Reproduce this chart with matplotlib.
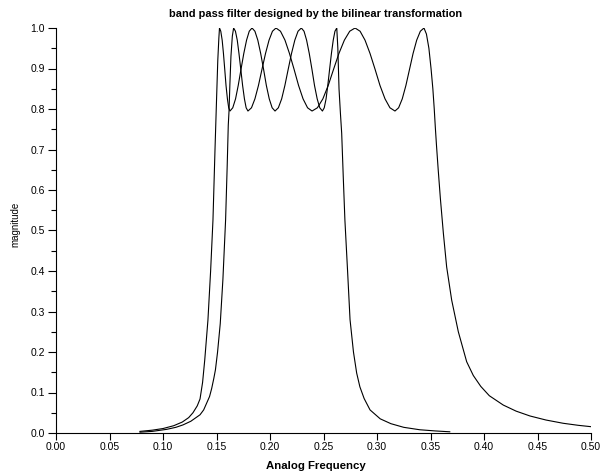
import matplotlib
matplotlib.use("Agg")
import matplotlib.pyplot as plt
from matplotlib.ticker import MultipleLocator, FormatStrFormatter

# narrow band filter
f_narrow = [0.0785, 0.090, 0.100, 0.110, 0.118, 0.124, 0.128, 0.132, 0.1346, 0.137,
            0.139, 0.142, 0.1445, 0.1467, 0.1486, 0.1500, 0.1512, 0.1522, 0.1528,
            0.1540, 0.1553, 0.1565, 0.1577, 0.1589, 0.1602, 0.1614, 0.1626,
            0.1652, 0.1678, 0.1703, 0.1729, 0.1755, 0.1781, 0.1806, 0.1832,
            0.1859, 0.1886, 0.1913, 0.1940, 0.1966, 0.1993, 0.2020, 0.2047,
            0.2078, 0.2109, 0.2139, 0.2170, 0.2201, 0.2232, 0.2262, 0.2293,
            0.2318, 0.2342, 0.2367, 0.2392, 0.2416, 0.2441, 0.2465, 0.2490,
            0.2507, 0.2524, 0.2540, 0.2557, 0.2574, 0.2591, 0.2607, 0.2624,
            0.2634, 0.2645, 0.2658, 0.2670, 0.2685, 0.2700, 0.2725, 0.2748, 0.2780,
            0.2810, 0.2840, 0.2880, 0.2935, 0.3030, 0.3130, 0.3250, 0.3400, 0.3550, 0.3680]
m_narrow = [0.004, 0.007, 0.011, 0.018, 0.027, 0.038, 0.050, 0.067, 0.084, 0.125,
            0.180, 0.279, 0.400, 0.526, 0.700, 0.820, 0.920, 0.975, 1.000,
            0.992, 0.970, 0.937, 0.898, 0.858, 0.825, 0.803, 0.795,
            0.803, 0.825, 0.858, 0.898, 0.937, 0.970, 0.992, 1.000,
            0.992, 0.970, 0.937, 0.898, 0.858, 0.825, 0.803, 0.795,
            0.803, 0.825, 0.858, 0.898, 0.937, 0.970, 0.992, 1.000,
            0.992, 0.970, 0.937, 0.898, 0.858, 0.825, 0.803, 0.795,
            0.803, 0.825, 0.858, 0.898, 0.937, 0.970, 0.992, 1.000,
            0.950, 0.850, 0.790, 0.740, 0.630, 0.526, 0.400, 0.280, 0.200,
            0.148, 0.114, 0.085, 0.057, 0.035, 0.023, 0.014, 0.008, 0.005, 0.003]

# wide band filter
f_wide = [0.0785, 0.090, 0.1034, 0.112, 0.1187, 0.126, 0.1346, 0.138, 0.141, 0.1435,
          0.1455, 0.1475, 0.149, 0.151, 0.1535, 0.156, 0.1585, 0.1600, 0.1610, 0.1617,
          0.1625, 0.1635, 0.1648, 0.1660,
          0.1677, 0.1694, 0.1710, 0.1727, 0.1744, 0.1761, 0.1777, 0.1794,
          0.1827, 0.1859, 0.1892, 0.1925, 0.1958, 0.1991, 0.2023, 0.2056,
          0.2098, 0.2140, 0.2182, 0.2225, 0.2267, 0.2309, 0.2351, 0.2393,
          0.2443, 0.2494, 0.2544, 0.2594, 0.2644, 0.2695, 0.2745, 0.2795,
          0.2842, 0.2888, 0.2935, 0.2982, 0.3028, 0.3075, 0.3121, 0.3168,
          0.3202, 0.3236, 0.3270, 0.3304, 0.3337, 0.3371, 0.3405, 0.3439,
          0.3462, 0.3485, 0.3505, 0.3522, 0.3535, 0.3545, 0.3556, 0.3572, 0.3592,
          0.3620, 0.3651, 0.3698, 0.3760, 0.3838, 0.3900, 0.3970, 0.4050, 0.4180,
          0.4300, 0.4430, 0.4580, 0.4740, 0.4880, 0.5000]
m_wide = [0.002, 0.004, 0.009, 0.014, 0.020, 0.029, 0.045, 0.057, 0.075, 0.090,
          0.110, 0.135, 0.156, 0.200, 0.270, 0.380, 0.526, 0.660, 0.760, 0.795,
          0.860, 0.930, 0.980, 1.000,
          0.992, 0.970, 0.937, 0.898, 0.858, 0.825, 0.803, 0.795,
          0.803, 0.825, 0.858, 0.898, 0.937, 0.970, 0.992, 1.000,
          0.992, 0.970, 0.937, 0.898, 0.858, 0.825, 0.803, 0.795,
          0.803, 0.825, 0.858, 0.898, 0.937, 0.970, 0.992, 1.000,
          0.992, 0.970, 0.937, 0.898, 0.858, 0.825, 0.803, 0.795,
          0.803, 0.825, 0.858, 0.898, 0.937, 0.970, 0.992, 1.000,
          0.985, 0.950, 0.900, 0.850, 0.800, 0.755, 0.710, 0.650, 0.580,
          0.494, 0.410, 0.328, 0.250, 0.176, 0.142, 0.115, 0.092, 0.069,
          0.054, 0.042, 0.032, 0.024, 0.019, 0.0156]

plt.rcParams['font.family'] = ['Liberation Sans', 'DejaVu Sans']

fig = plt.figure(figsize=(6.04, 4.76), dpi=100)
ax = fig.add_axes([56/604, 1-433/476, (591-56)/604, (433-28)/476])

ax.plot(f_narrow, m_narrow, color='black', lw=0.8)
ax.plot(f_wide, m_wide, color='black', lw=0.8)

ax.set_xlim(0, 0.5)
ax.set_ylim(0, 1.0)
ax.spines['top'].set_visible(False)
ax.spines['right'].set_visible(False)
ax.spines['left'].set_linewidth(0.8)
ax.spines['bottom'].set_linewidth(0.8)

ax.xaxis.set_major_locator(MultipleLocator(0.05))
ax.xaxis.set_major_formatter(FormatStrFormatter('%.2f'))
ax.yaxis.set_major_locator(MultipleLocator(0.1))
ax.yaxis.set_minor_locator(MultipleLocator(0.05))
ax.yaxis.set_major_formatter(FormatStrFormatter('%.1f'))
ax.tick_params(axis='x', which='major', length=5, width=0.8, labelsize=7.5, direction='out', pad=1.5)
ax.tick_params(axis='y', which='major', length=5.8, width=0.8, labelsize=7.5, direction='out', pad=2)
ax.tick_params(axis='y', which='minor', length=3.6, width=0.8, direction='out')

fig.text(316/604, 1-14/476, 'band pass filter designed by the bilinear transformation',
         ha='center', va='center', fontsize=7.9, fontweight='bold')
fig.text(316/604, 1-466/476, 'Analog Frequency', ha='center', va='center',
         fontsize=8.2, fontweight='bold')
fig.text(15/604, 1-224/476, 'magnitude', ha='center', va='center', rotation=90, fontsize=7)

fig.savefig('out.png', dpi=100)
